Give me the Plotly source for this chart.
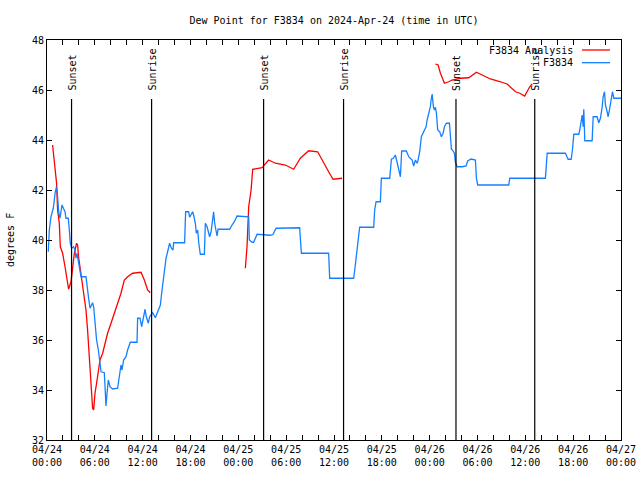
import pandas as pd
import plotly.graph_objects as go

START = pd.Timestamp("2024-04-24 00:00")

# Analysis (red) series: hours since 04/24 00:00 UTC, dew point (F); None breaks the line
red_hours = [0.70, 1.00, 1.20, 1.33, 1.54, 1.67, 1.96, 2.26, 2.51, 2.71, 3.01, 3.21, 3.43, 3.71, 3.84,
             3.96, 4.18, 4.47, 4.68, 4.89, 5.09, 5.31, 5.52, 5.72, 5.85, 6.02, 6.22, 6.44, 6.65, 6.98,
             7.28, 7.60, 8.03, 8.44, 8.86, 9.28, 9.70, 10.11, 10.74, 11.79, 12.21, 12.62, 12.96,
             None,
             24.88, 25.09, 25.30, 25.60, 25.80, 26.98, 27.80, 28.65, 29.90, 30.94, 31.78, 32.82,
             33.95, 34.71, 35.33, 35.88, 37.01,
             None,
             48.72, 49.06, 49.35, 49.85, 50.39, 50.82, 51.86, 52.90, 53.86, 54.37, 55.62, 56.88,
             57.72, 58.76, 59.30, 59.92, 60.55, 60.85]
red_values = [43.80, 42.93, 42.28, 41.20, 40.68, 39.73, 39.47, 38.93, 38.40, 38.03, 38.33, 38.93, 39.47, 39.87, 39.80,
              39.33, 38.80, 38.13, 37.73, 37.20, 36.40, 35.33, 34.27, 33.27, 33.20, 33.87, 34.27, 34.80, 35.20, 35.47,
              35.87, 36.27, 36.67, 37.07, 37.47, 37.87, 38.40, 38.53, 38.67, 38.71, 38.40, 38.00, 37.89,
              None,
              38.87, 39.73, 41.33, 42.00, 42.83, 42.89, 43.20, 43.07, 43.00, 42.83, 43.27, 43.57,
              43.53, 43.07, 42.73, 42.43, 42.47,
              None,
              47.04, 47.00, 46.67, 46.27, 46.33, 46.40, 46.47, 46.49, 46.71, 46.63, 46.44, 46.33,
              46.24, 45.93, 45.87, 45.76, 46.13, 46.24]

# Observed (blue) series
blue_hours = [0.16, 0.29, 0.50, 0.79, 1.04, 1.20, 1.33, 1.46, 1.63, 1.76, 1.88, 2.05, 2.26, 2.38, 2.67,
              2.80, 2.92, 3.09, 3.34, 3.51, 3.64, 3.76, 3.93, 4.05, 4.27, 4.89, 5.02, 5.22, 5.40, 5.60,
              5.72, 5.85, 6.02, 6.22, 6.44, 6.60, 6.78, 7.19, 7.32, 7.40, 7.53, 7.69, 7.90, 8.23, 8.86,
              9.07, 9.28, 9.41, 9.61, 9.91, 10.11, 10.45, 11.29, 11.37, 11.67, 11.87, 12.08, 12.30, 12.46,
              12.71, 12.87, 13.25, 13.59, 13.88, 14.22, 14.38, 14.56, 14.72, 14.93, 15.13, 15.38, 15.60,
              15.81, 15.88, 17.26, 17.39, 17.77, 17.89, 18.07, 18.27, 18.39, 18.61, 18.73, 18.90, 19.02,
              19.23, 19.74, 19.86, 20.08, 20.28, 20.40, 20.58, 20.70, 20.90, 21.03, 21.20, 21.33, 21.46,
              22.91, 23.21, 23.50, 23.84, 25.09, 25.30, 25.38, 25.72, 25.92, 26.35, 28.02, 28.36, 28.73,
              31.69, 31.91, 35.33, 35.46, 38.47, 38.60, 38.90, 39.22, 40.98, 41.10, 41.28, 41.82, 41.94,
              42.99, 43.20, 43.45, 43.70, 44.12, 44.33, 44.49, 45.08, 45.37, 45.80, 46.00, 46.21, 46.42,
              46.50, 46.75, 46.96, 47.25, 47.55, 47.68, 47.88, 48.09, 48.18, 48.31, 48.47, 48.60, 48.72,
              48.85, 49.01, 49.26, 49.47, 49.69, 49.85, 50.10, 50.48, 50.60, 50.73, 50.85, 51.10, 51.22,
              51.44, 52.07, 52.57, 52.77, 53.20, 53.74, 53.86, 54.03, 57.92, 58.05, 62.52, 62.74, 65.03,
              65.25, 65.37, 65.75, 65.91, 66.08, 66.71, 66.83, 67.01, 67.13, 67.26, 67.33, 67.46, 68.38,
              68.51, 69.01, 69.21, 69.42, 69.64, 69.76, 69.93, 70.05, 70.26, 70.39, 70.59, 70.77, 70.93,
              71.10, 72.00]
blue_values = [39.53, 40.40, 40.93, 41.27, 41.93, 42.13, 41.73, 41.13, 40.87, 41.13, 41.40, 41.27, 41.13, 40.87, 40.87,
               40.40, 39.87, 39.67, 39.73, 39.60, 39.27, 39.47, 39.13, 38.93, 38.53, 38.53, 38.13, 37.67, 37.27, 37.40,
               37.49, 37.33, 36.53, 36.00, 35.60, 35.20, 34.73, 34.69, 33.87, 33.36, 33.87, 34.40, 34.13, 34.04, 34.07,
               34.53, 35.00, 34.80, 35.20, 35.33, 35.60, 35.91, 35.91, 36.87, 36.87, 36.53, 36.93, 37.23, 36.93,
               36.67, 36.93, 37.09, 36.89, 37.13, 37.40, 37.87, 38.40, 38.80, 39.27, 39.53, 39.87, 39.67,
               39.60, 39.89, 39.89, 41.13, 41.13, 40.91, 41.04, 41.13, 41.00, 40.67, 40.27, 40.40, 39.93,
               39.43, 39.43, 40.67, 40.53, 40.27, 40.13, 40.33, 40.67, 41.13, 40.67, 40.40, 40.16, 40.43,
               40.43, 40.60, 40.73, 40.96, 40.93, 40.93, 40.00, 39.91, 39.91, 40.23, 40.19, 40.23, 40.47,
               40.49, 39.47, 39.47, 38.47, 38.47, 38.80, 39.73, 40.51, 40.51, 41.20, 41.53, 41.53, 42.47,
               42.47, 43.23, 43.27, 43.40, 42.80, 42.53, 43.56, 43.56, 43.33, 43.20, 42.96, 43.20, 43.07,
               43.13, 43.53, 44.13, 44.33, 44.53, 44.80, 45.07, 45.33, 45.60, 45.84, 45.33, 45.20, 45.31,
               45.07, 44.40, 44.33, 44.13, 44.27, 44.53, 44.67, 44.67, 44.20, 43.63, 43.60, 43.47, 43.13,
               42.93, 42.93, 42.96, 43.16, 43.24, 43.20, 42.47, 42.20, 42.20, 42.47, 42.47, 43.47, 43.47,
               43.31, 43.23, 43.23, 43.60, 44.23, 44.23, 44.40, 44.73, 45.00, 44.53, 45.23, 43.97, 43.97,
               44.93, 44.93, 44.69, 44.87, 45.33, 45.73, 45.93, 45.40, 45.13, 44.93, 45.27, 45.67, 45.93,
               45.67, 45.67]

# Sun events (hours since start)
sun_labels = ["Sunset", "Sunrise", "Sunset", "Sunrise", "Sunset", "Sunrise"]
sun_hours = [3.08, 13.12, 27.17, 37.20, 51.30, 61.18]

tick_hours = list(range(0, 73, 6))


def to_time(hours):
    return [None if h is None else START + pd.Timedelta(hours=h) for h in hours]


FONT = "DejaVu Sans Mono"
RED = "#ff0000"
BLUE = "#1480ff"

fig = go.Figure()
fig.add_trace(go.Scatter(x=to_time(red_hours), y=red_values, mode="lines",
                         line=dict(color=RED, width=1.3), name="F3834 Analysis",
                         connectgaps=False, showlegend=False))
fig.add_trace(go.Scatter(x=to_time(blue_hours), y=blue_values, mode="lines",
                         line=dict(color=BLUE, width=1.3), name="F3834",
                         showlegend=False))

# Sunrise / sunset markers
for lab, h in zip(sun_labels, sun_hours):
    t = START + pd.Timedelta(hours=h)
    fig.add_shape(type="line", x0=t, x1=t, y0=32, y1=45.64, xref="x", yref="y",
                  line=dict(color="black", width=1.2))
    fig.add_annotation(x=t, y=45.88, xref="x", yref="y", text=lab, textangle=-90,
                       showarrow=False, xanchor="center", yanchor="bottom",
                       font=dict(family=FONT, size=10, color="black"))

# Legend (gnuplot style: text right-aligned, sample to the right)
legend_items = [("F3834 Analysis", RED), ("F3834", BLUE)]
for i, (name, col) in enumerate(legend_items):
    py = 50 + i * 12.7
    yp = (440 - py) / 400
    fig.add_annotation(x=(575 - 47) / 574, y=yp, xref="paper", yref="paper", text=name,
                       showarrow=False, xanchor="right", yanchor="middle",
                       font=dict(family=FONT, size=10, color="black"))
    fig.add_shape(type="line", xref="paper", yref="paper",
                  x0=(582 - 47) / 574, x1=(610 - 47) / 574, y0=yp, y1=yp,
                  line=dict(color=col, width=1.3))

# Y axis title
fig.add_annotation(x=(10 - 47) / 574, y=0.5, xref="paper", yref="paper", text="degrees F",
                   textangle=-90, showarrow=False, xanchor="center", yanchor="middle",
                   font=dict(family=FONT, size=10, color="black"))

tick_vals = [START + pd.Timedelta(hours=h) for h in tick_hours]
tick_text = [t.strftime("%m/%d") + "<br>" + t.strftime("%H:%M") for t in tick_vals]

fig.update_layout(
    width=640, height=480,
    margin=dict(l=47, r=19, t=40, b=40),
    paper_bgcolor="white", plot_bgcolor="white",
    title=dict(text="Dew Point for F3834 on 2024-Apr-24 (time in UTC)", x=0.5, xref="paper",
               y=1 - 20 / 480, yanchor="middle",
               font=dict(family=FONT, size=10, color="black")),
    font=dict(family=FONT, size=10, color="black"),
    xaxis=dict(range=[START, START + pd.Timedelta(hours=72)], tickvals=tick_vals, ticktext=tick_text,
               ticks="inside", ticklen=5, tickcolor="black", showgrid=False, zeroline=False,
               showline=True, linecolor="black", linewidth=1, mirror="ticks", automargin=False,
               minor=dict(dtick=2 * 3600 * 1000, ticks="inside", ticklen=5, tickcolor="black",
                          showgrid=False),
               tickfont=dict(family=FONT, size=10)),
    yaxis=dict(range=[32, 48], dtick=2, ticks="inside", ticklen=5, tickcolor="black",
               showgrid=False, zeroline=False, showline=True, linecolor="black", linewidth=1,
               mirror="ticks", automargin=False, tickfont=dict(family=FONT, size=10)),
)

fig.write_html("out.html", config={"displayModeBar": False},
               post_script="document.body.style.margin='0';document.body.style.overflow='hidden';")
